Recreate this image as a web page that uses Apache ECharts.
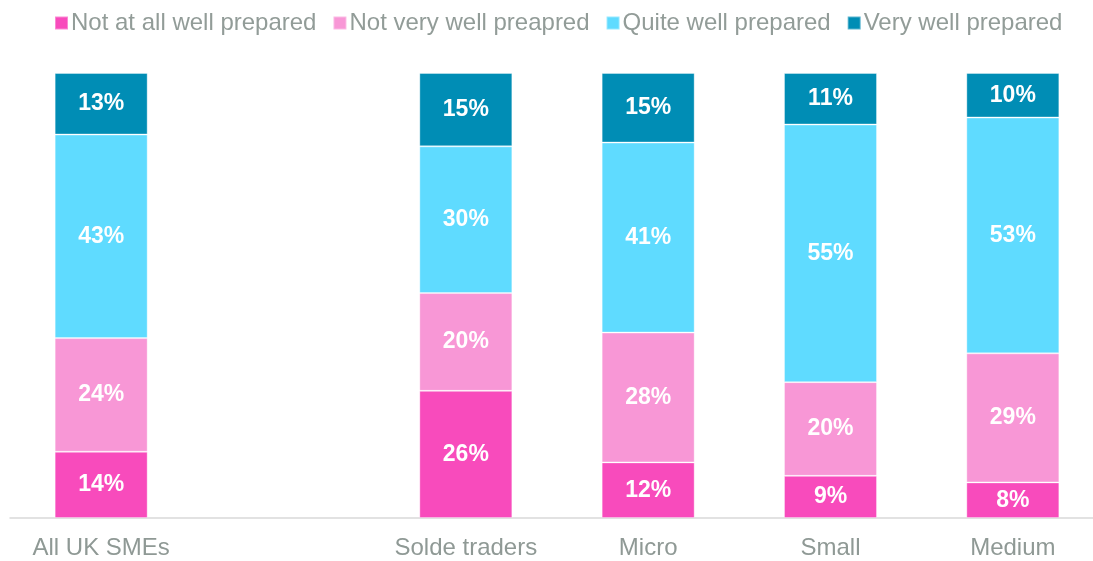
<!DOCTYPE html>
<html>
<head>
<meta charset="utf-8">
<script src="https://cdn.jsdelivr.net/npm/echarts@6/dist/echarts.min.js"></script>
<style>
  html, body { margin: 0; padding: 0; background: #fff; }
  #chart { width: 1093px; height: 561px; }
</style>
</head>
<body>
<div id="chart"></div>
<script>
// categories (an empty slot sits between the total and the size bands)
var categories = ["All UK SMEs", "", "Solde traders", "Micro", "Small", "Medium"];
var seriesNames = ["Not at all well prepared", "Not very well preapred", "Quite well prepared", "Very well prepared"];
var notAtAll  = [14, null, 26, 12, 9, 8];
var notVery   = [24, null, 20, 28, 20, 29];
var quiteWell = [43, null, 30, 41, 55, 53];
var veryWell  = [13, null, 15, 15, 11, 10];
var colors = ["#F84BBC", "#F897D6", "#5FDBFF", "#008DB5"];

var raw = [notAtAll, notVery, quiteWell, veryWell];
// bars are drawn as 100% stacks, labels show the reported figure
var totals = categories.map(function (c, i) {
  var t = 0;
  raw.forEach(function (s) { if (s[i] != null) t += s[i]; });
  return t;
});

var chart = echarts.init(document.getElementById("chart"));
var series = raw.map(function (vals, k) {
  return {
    name: seriesNames[k],
    type: "bar",
    stack: "all",
    barWidth: 93,
    itemStyle: {
      color: colors[k],
      borderColor: "rgba(255,255,255,0.35)",
      borderWidth: 1
    },
    label: {
      show: true,
      position: "inside",
      color: "#fff",
      fontSize: 23,
      fontWeight: "bold",
      fontFamily: "Liberation Sans, Arial, sans-serif",
      formatter: function (p) { return vals[p.dataIndex] + "%"; }
    },
    data: vals.map(function (v, i) {
      return v == null ? null : v / totals[i] * 100;
    })
  };
});

chart.setOption({
  animation: false,
  color: colors,
  legend: {
    top: 6,
    left: 49,
    itemWidth: 13,
    itemHeight: 13,
    itemGap: 16,
    icon: "rect",
    textStyle: {
      color: "#929c98",
      fontSize: 24,
      fontFamily: "Liberation Sans, Arial, sans-serif",
      padding: [0, 0, 0, -2]
    },
    data: seriesNames
  },
  grid: {
    left: 10,
    width: 1094,
    top: 73,
    bottom: 43,
    outerBoundsMode: "none"
  },
  xAxis: {
    type: "category",
    data: categories,
    axisTick: { show: false },
    axisLine: { lineStyle: { color: "#d9d9d9", width: 1.5 } },
    axisLabel: {
      interval: 0,
      color: "#8f9995",
      fontSize: 24,
      margin: 18,
      fontFamily: "Liberation Sans, Arial, sans-serif"
    }
  },
  yAxis: {
    type: "value",
    min: 0,
    max: 100,
    show: false,
    splitLine: { show: false }
  },
  series: series
});
</script>
</body>
</html>
